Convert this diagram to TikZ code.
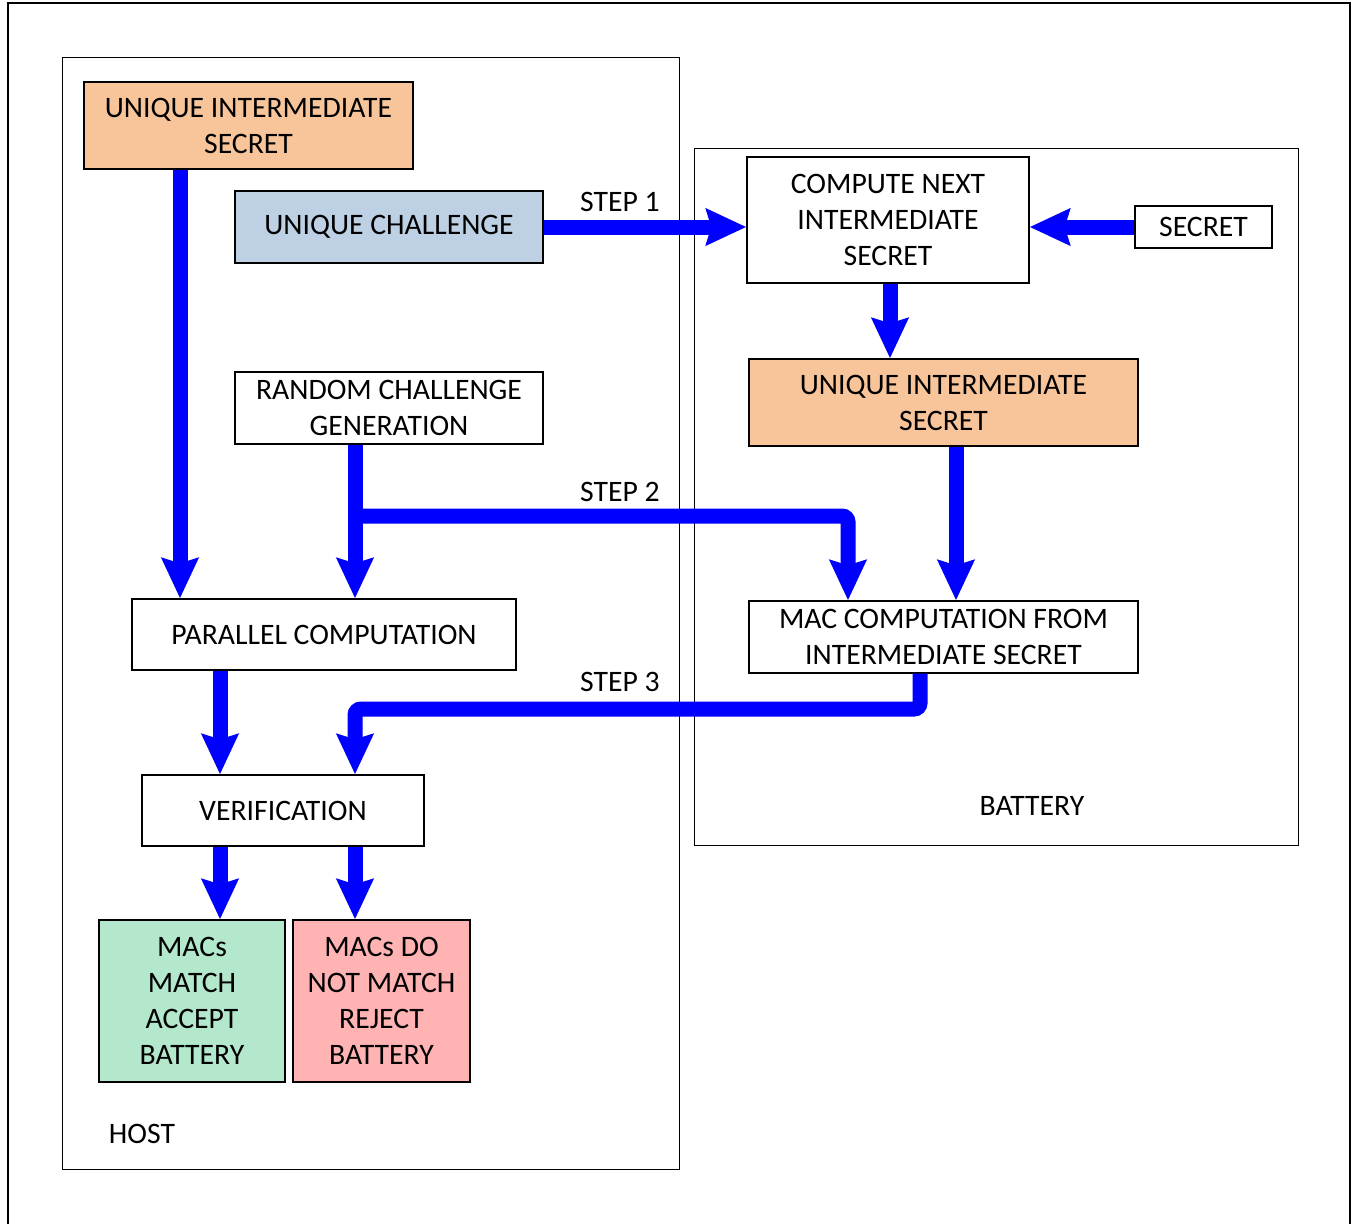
\documentclass[tikz,border=0pt]{standalone}
\usepackage{fontspec}
\setmainfont{Carlito}
\usetikzlibrary{arrows.meta}
\definecolor{peach}{HTML}{F8C59B}
\definecolor{lblue}{HTML}{BDD0E4}
\definecolor{lgreen}{HTML}{B3E8CC}
\definecolor{lpink}{HTML}{FFB3B3}
\definecolor{flowblue}{HTML}{0000FF}
\begin{document}
\begin{tikzpicture}[x=1pt,y=-1pt,
  box/.style={draw=black, line width=1.3pt, inner sep=0pt, align=center, font=\fontsize{29.7}{36}\selectfont},
  lbl/.style={inner sep=0pt, font=\fontsize{29.7}{36}\selectfont},
  flow/.style={draw=flowblue, line width=15pt, -{Stealth[length=40pt,width=36pt,inset=5pt]}},
  frame/.style={draw=black, line width=1.3pt, inner sep=0pt}]
\useasboundingbox (0,0) rectangle (1353,1224);
\draw[frame] (8,3) rectangle (1350,1240);
\node[frame, minimum width=617pt, minimum height=1112pt, anchor=north west] (host) at (62,57) {};
\node[frame, minimum width=604pt, minimum height=697pt, anchor=north west] (batt) at (694,148) {};
% boxes
\node[box, fill=peach, minimum width=329pt, minimum height=87pt] (uis1) at (248.5,125.5) {UNIQUE INTERMEDIATE\\SECRET};
\node[box, fill=lblue, minimum width=308pt, minimum height=72pt] (uch) at (389,227) {UNIQUE CHALLENGE};
\node[box, fill=white, minimum width=282pt, minimum height=126pt] (cmp) at (888,220) {COMPUTE NEXT\\INTERMEDIATE\\SECRET};
\node[box, fill=white, minimum width=137pt, minimum height=42pt] (sec) at (1203.5,227) {SECRET};
\node[box, fill=peach, minimum width=389pt, minimum height=87pt] (uis2) at (943.5,402.5) {UNIQUE INTERMEDIATE\\SECRET};
\node[box, fill=white, minimum width=308pt, minimum height=72pt] (rcg) at (389,408) {RANDOM CHALLENGE\\GENERATION};
\node[box, fill=white, minimum width=384pt, minimum height=71pt] (par) at (324,634.5) {PARALLEL COMPUTATION};
\node[box, fill=white, minimum width=389pt, minimum height=72pt] (mac) at (943.5,637) {MAC COMPUTATION FROM\\INTERMEDIATE SECRET};
\node[box, fill=white, minimum width=282pt, minimum height=71pt] (ver) at (283,810.5) {VERIFICATION};
\node[box, fill=lgreen, minimum width=186pt, minimum height=162pt] (acc) at (192,1001) {MACs\\MATCH\\ACCEPT\\BATTERY};
\node[box, fill=lpink, minimum width=177pt, minimum height=162pt] (rej) at (381.5,1001) {MACs DO\\NOT MATCH\\REJECT\\BATTERY};
% labels
\node[lbl] (hostlbl) at (142,1134) {HOST};
\node[lbl] (battlbl) at (1032,806) {BATTERY};
\node[lbl] (s1) at (620,202) {STEP 1};
\node[lbl] (s2) at (620,492) {STEP 2};
\node[lbl] (s3) at (620,682) {STEP 3};
% helper coordinates
\coordinate (x180) at (180,0);
\coordinate (x220) at (220,0);
\coordinate (x355) at (355,0);
\coordinate (x848) at (848,0);
\coordinate (x890) at (890,0);
\coordinate (x920) at (920,0);
\coordinate (x956) at (956,0);
\coordinate (y516) at (0,516);
\coordinate (y709) at (0,709);
% connectors
\draw[flow] (uis1.south -| x180) -- (par.north -| x180);
\draw[flow] (uch.east) -- (uch.east -| cmp.west);
\draw[flow] (sec.west) -- (sec.west -| cmp.east);
\draw[flow] (cmp.south -| x890) -- (uis2.north -| x890);
\draw[flow] (rcg.south -| x355) -- (par.north -| x355);
\draw[flow, rounded corners=6pt] (x355 |- y516) -- (x848 |- y516) -- (mac.north -| x848);
\draw[flow] (uis2.south -| x956) -- (mac.north -| x956);
\draw[flow] (par.south -| x220) -- (ver.north -| x220);
\draw[flow, rounded corners=6pt] (mac.south -| x920) -- (x920 |- y709) -- (x355 |- y709) -- (ver.north -| x355);
\draw[flow] (ver.south -| x220) -- (acc.north -| x220);
\draw[flow] (ver.south -| x355) -- (rej.north -| x355);
\end{tikzpicture}
\end{document}
